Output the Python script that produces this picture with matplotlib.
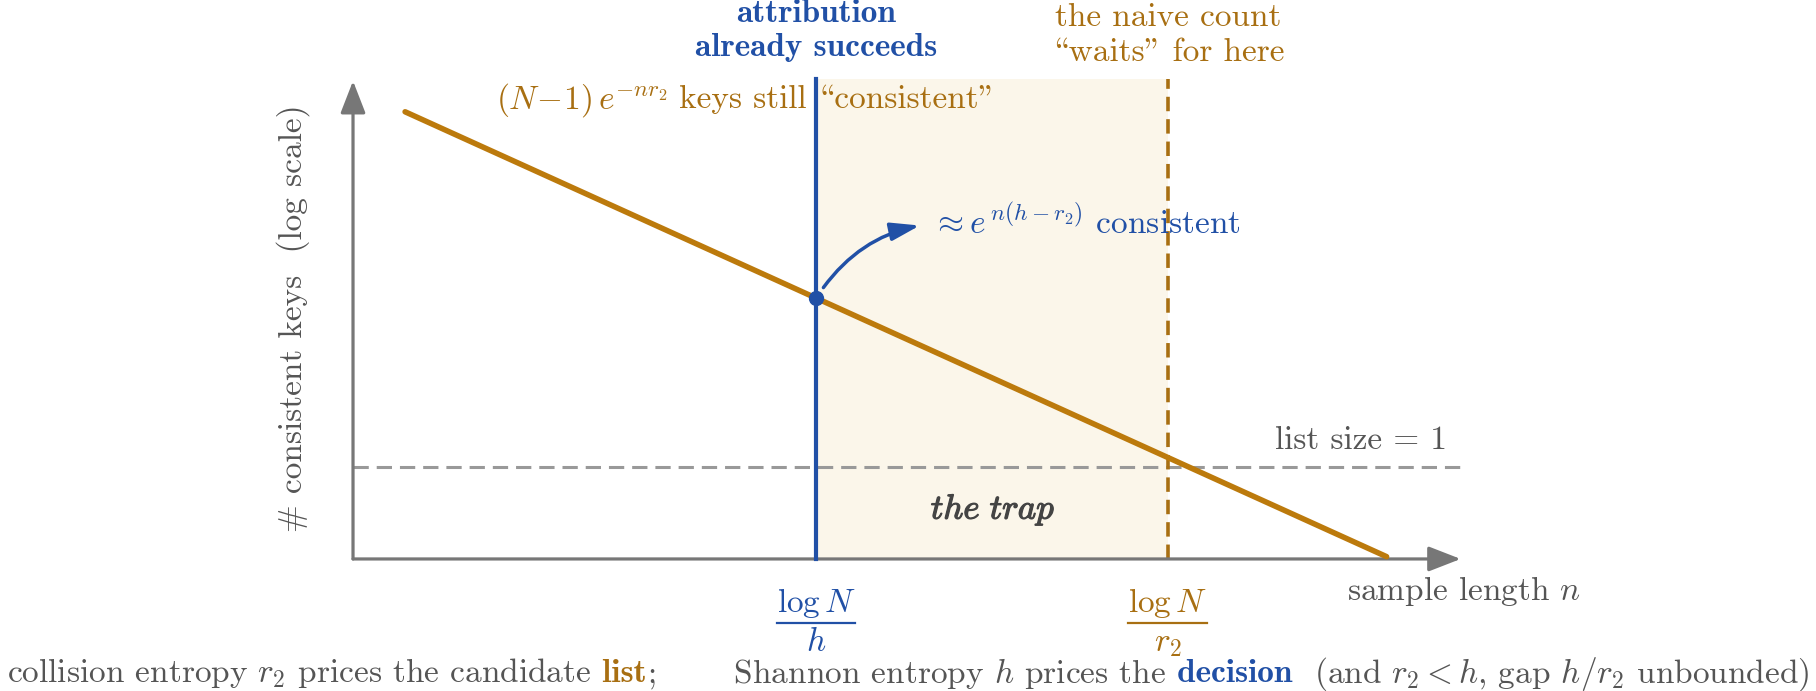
import matplotlib
matplotlib.use('Agg')
import matplotlib.pyplot as plt
import matplotlib.patheffects as pe
from matplotlib.patches import FancyArrowPatch
from matplotlib.offsetbox import TextArea, HPacker, AnnotationBbox

plt.rcParams['font.family'] = ['cmr10', 'DejaVu Serif']
plt.rcParams['mathtext.fontset'] = 'cm'
plt.rcParams['axes.unicode_minus'] = False

# schematic values: n in arbitrary units, y = log(# consistent keys), 0 means one key
curve_n = [0.45, 8.93]
curve_logk = [7.72, -1.95]
n_h = 4.0        # log N / h
n_r2 = 7.04      # log N / r2
dot_logk = 3.68
list_one = 0.0
y_floor = -2.0
y_top = 8.43
n_end = 9.57
y_end = 8.39

BLUE = '#2150A6'
ORANGE = '#BC7A0C'
BROWN = '#A86F12'
GRAY = '#777777'
TXT = '#555555'
FS = 24

fig = plt.figure(figsize=(18.16, 6.91), dpi=100)
ax = fig.add_axes([0, 0, 1, 1])
ax.set_xlim(-3.05, 12.64)
ax.set_ylim(-4.87, 10.15)
ax.axis('off')

# shaded "trap" region
ax.fill_between([n_h, n_r2], y_floor, y_top, color='#FBF6EA', lw=0, zorder=0)

# list size = 1 reference
ax.plot([0, 9.6], [list_one, list_one], color='#999999', lw=2.2, dashes=(5, 2.6), zorder=1)

# the two thresholds
ax.plot([n_h, n_h], [y_floor, y_top], color=BLUE, lw=3, zorder=3)
ax.plot([n_r2, n_r2], [y_floor, y_top], color=BROWN, lw=2.6, dashes=(4, 2.2), zorder=2)

# consistent keys curve
ax.plot(curve_n, curve_logk, color=ORANGE, lw=4, solid_capstyle='round', zorder=4)
ax.plot(n_h, dot_logk, 'o', ms=10, color=BLUE, zorder=5)

# axes arrows
arrow = dict(arrowstyle='-|>,head_length=0.9,head_width=0.35', color=GRAY, lw=2.3,
             mutation_scale=22, shrinkA=0, shrinkB=0)
ax.annotate('', xy=(n_end, y_floor), xytext=(0, y_floor), arrowprops=arrow, zorder=2)
ax.annotate('', xy=(0, y_end), xytext=(0, y_floor), arrowprops=arrow, zorder=2)

# curved pointer
ax.add_patch(FancyArrowPatch((4.05, 3.85), (4.92, 5.26), connectionstyle='arc3,rad=-0.2',
                             arrowstyle='-|>,head_length=0.8,head_width=0.25', color=BLUE,
                             lw=2.5, mutation_scale=22, zorder=5))

# labels
ax.text(n_h, 9.85, 'attribution', color=BLUE, fontsize=FS, family='cmb10', ha='center', va='center')
ax.text(n_h, 9.11, 'already succeeds', color=BLUE, fontsize=FS, family='cmb10', ha='center', va='center')
ax.text(n_r2, 9.76, 'the naive count', color=BROWN, fontsize=FS, ha='center', va='center')
# cmr10 uses TeX OT1 slots: backslash -> left double quote, '"' -> right double quote
ax.text(n_r2, 9.02, '\\waits" for here', color=BROWN, fontsize=FS, ha='center', va='center')

top_lbl = HPacker(children=[
    TextArea(r'$(N\!-\!1)\,e^{-n r_2}$', textprops=dict(color=BROWN, fontsize=FS)),
    TextArea(' keys still \\consistent"', textprops=dict(color=BROWN, fontsize=FS)),
], align='baseline', pad=0, sep=0)
ax.add_artist(AnnotationBbox(top_lbl, (1.235, 7.98), frameon=False, pad=0, box_alignment=(0, 0.5)))

ax.text(5.0, 5.33, r'$\approx e^{\,n(h-r_2)}$ consistent', color=BLUE, fontsize=FS, va='center')
ax.text(9.45, 0.565, 'list size = 1', color=TXT, fontsize=FS, ha='right', va='center')
ax.text(5.53, -0.93, r'$\mathit{the\ trap}$', color='#444444', fontsize=FS + 1, ha='center', va='center',
        path_effects=[pe.withStroke(linewidth=0.9, foreground='#444444')])
ax.text(8.59, -2.7, r'sample length $n$', color=TXT, fontsize=FS, va='center')

# tick labels drawn as stacked fractions
for xv, den, col in [(n_h, r'$h$', BLUE), (n_r2, r'$r_2$', BROWN)]:
    ax.text(xv, -3.15, r'$\log N$', color=col, fontsize=FS, ha='center', va='baseline')
    ax.plot([xv - 0.34, xv + 0.34], [-3.39, -3.39], color=col, lw=1.6)
    ax.text(xv, -4.0, den, color=col, fontsize=FS, ha='center', va='baseline')

ax.text(-0.52, 3.24, '# consistent keys  (log scale)', color=TXT, fontsize=FS, rotation=90,
        ha='center', va='center')

# caption along the bottom
cap = HPacker(children=[
    TextArea(r'collision entropy $r_2$ prices the candidate', textprops=dict(color=TXT, fontsize=FS)),
    TextArea(' list', textprops=dict(color=BROWN, fontsize=FS, family='cmb10')),
    TextArea(r';       Shannon entropy $h$ prices the', textprops=dict(color=TXT, fontsize=FS)),
    TextArea(' decision', textprops=dict(color=BLUE, fontsize=FS, family='cmb10')),
    TextArea(r'  (and $r_2 < h$, gap $h/r_2$ unbounded)', textprops=dict(color=TXT, fontsize=FS)),
], align='baseline', pad=0, sep=0)
fig.add_artist(AnnotationBbox(cap, (0.5, 0.025), xycoords='figure fraction', frameon=False,
                              pad=0, box_alignment=(0.5, 0.5)))

fig.savefig('out.png', dpi=100)
